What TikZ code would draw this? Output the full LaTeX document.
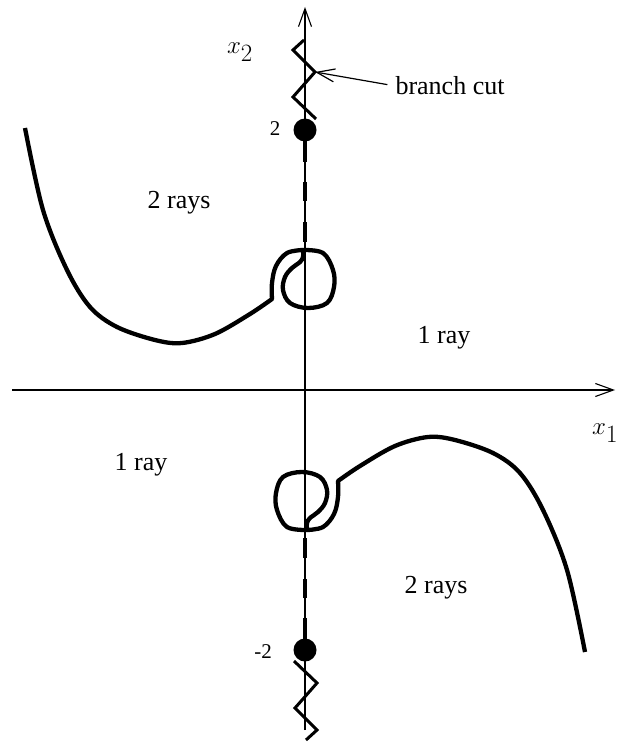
\documentclass[tikz,border=0pt]{standalone}
\usepackage{fontspec}
\setmainfont{Liberation Serif}
\usetikzlibrary{arrows.meta}
\begin{document}
\begin{tikzpicture}[x=1pt,y=1pt,
  axis/.style={line width=1.1pt},
  tipbarb/.style={-{Straight Barb[length=18pt,width=13pt,line width=1.1pt]}},
  curve/.style={line width=4.3pt, line join=round},
  zig/.style={line width=3pt, line join=miter},
  dashseg/.style={line width=3.8pt},
  lbl/.style={font=\fontsize{26}{30}\selectfont, inner sep=0pt},
  mathlbl/.style={font=\fontsize{34}{38}\selectfont, inner sep=0pt},
  smalllbl/.style={font=\fontsize{21}{24}\selectfont, inner sep=0pt}]
\useasboundingbox (0,-743) rectangle (616,0);
\begin{scope}[shift={(305,-390)}]
  \coordinate (ytop) at (0,383);
  \coordinate (ybot) at (0,-340);
  \coordinate (xl) at (-293,0);
  \coordinate (xr) at (310,0);
  \draw[axis, tipbarb] (ybot) -- (ytop);
  \draw[axis, tipbarb] (xl) -- (xr);
  \foreach \r in {0,180}{
    \begin{scope}[rotate=\r]
      \node[circle, fill, inner sep=0pt, minimum size=23pt] (dot\r) at (0,260) {};
      \coordinate (cutv\r) at (10,318);
      \draw[zig] (11,271) -- (-12,293) -- (cutv\r) -- (-12,340) -- (-1,350);
      \draw[dashseg] (0,249) -- (0,228) (0,208) -- (0,189) (0,168) -- (0,148);
      \draw[curve] plot[smooth, tension=0.6] coordinates {(-2,140) (18,137) (28,120) (29,103) (22,87) (3,82) (-15,87) (-22,100) (-20,113) (-13,122) (-5,128) (-2,133) (-2,140)};
      \draw[curve] plot[smooth, tension=0.6] coordinates {(-2,140) (-18,137) (-29,124) (-33,107) (-33,91)}
        -- plot[smooth, tension=0.55] coordinates {(-33,91) (-55,76) (-90,56) (-123,47) (-150,50) (-188,63) (-215,83) (-238,120) (-262,180) (-280,262)};
    \end{scope}
  }
\end{scope}
\node[lbl] (bc) at (450,-86) {branch cut};
\draw[line width=1.2pt, -{Straight Barb[length=18pt,width=13pt,line width=1.2pt]}, shorten <=8pt] (bc.west) -- (cutv0);
\node[mathlbl] (xtwo) at (240,-52) {$x_2$};
\node[mathlbl, anchor=west] (xone) at (592,-433) {$x_1$};
\node[smalllbl] (ltwo) at (275,-129) {2};
\node[smalllbl] (lmtwo) at (263,-652) {-2};
\node[lbl] (tworaysA) at (179,-203) {2 rays};
\node[lbl] (tworaysB) at (436,-588) {2 rays};
\node[lbl] (onerayA) at (444,-338) {1 ray};
\node[lbl] (onerayB) at (141,-465) {1 ray};
\end{tikzpicture}
\end{document}
